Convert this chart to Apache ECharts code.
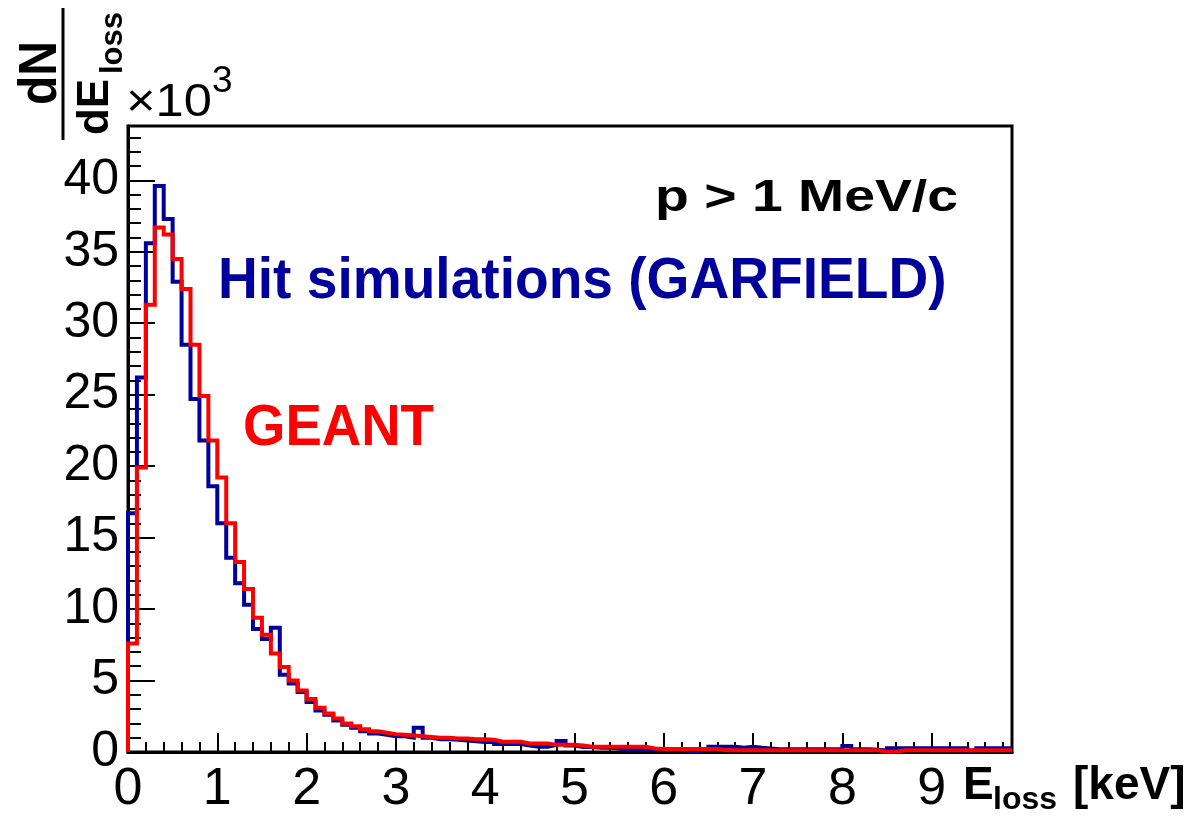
<!DOCTYPE html>
<html><head><meta charset="utf-8">
<script src="https://cdn.jsdelivr.net/npm/echarts@6/dist/echarts.min.js"></script>
<style>html,body{margin:0;padding:0;background:#fff}#c{width:1185px;height:818px}</style>
</head><body><div id="c"></div>
<script>
// ---- data (dN/dE in units of 10^3, bins of 0.1 keV starting at 0) ----
const binWidth = 0.1;
const xMax = 9.9;
const yMax = 43.8;
const xTickLabels = ['0','1','2','3','4','5','6','7','8','9'];
const yTickLabels = ['0','5','10','15','20','25','30','35','40'];
const garfield = [
  16.7, 26.2, 35.6, 39.6, 37.3, 32.9, 28.5, 24.7, 21.8, 18.6,
  16.0, 13.6, 11.8, 10.3, 8.6, 7.9, 8.7, 5.4, 4.8, 4.2,
  3.5, 2.9, 2.6, 2.2, 1.9, 1.7, 1.45, 1.3, 1.2, 1.1,
  1.1, 1.0, 1.7, 1.0, 0.9, 0.9, 0.85, 0.8, 0.75, 0.7,
  0.7, 0.56, 0.56, 0.56, 0.45, 0.37, 0.37, 0.5, 0.77, 0.45,
  0.35, 0.35, 0.3, 0.3, 0.25, 0.14, 0.14, 0.14, 0.2, 0.2,
  0.2, 0.15, 0.05, 0.05, 0.2, 0.37, 0.37, 0.37, 0.3, 0.37,
  0.3, 0.25, 0.2, 0.2, 0.2, 0.2, 0.2, 0.2, 0.2, 0.2,
  0.42, 0.2, 0.2, 0.15, 0.1, 0.26, 0.26, 0.26, 0.26, 0.26,
  0.26, 0.26, 0.26, 0.26, 0.1, 0.26, 0.26, 0.26, 0.26
];
const geant = [
  7.6, 19.9, 31.3, 36.7, 36.2, 34.5, 32.4, 28.5, 24.9, 21.8,
  19.2, 16.0, 13.3, 11.4, 9.4, 8.2, 6.9, 5.95, 5.0, 4.3,
  3.7, 3.1, 2.7, 2.35, 2.0, 1.8, 1.6, 1.45, 1.35, 1.25,
  1.2, 1.15, 1.1, 1.05, 1.0, 1.0, 0.95, 0.95, 0.9, 0.9,
  0.85, 0.72, 0.72, 0.72, 0.6, 0.6, 0.6, 0.5, 0.5, 0.5,
  0.45, 0.37, 0.37, 0.37, 0.37, 0.37, 0.37, 0.37, 0.25, 0.21,
  0.21, 0.21, 0.21, 0.21, 0.21, 0.21, 0.12, 0.12, 0.12, 0.12,
  0.12, 0.12, 0.12, 0.12, 0.12, 0.12, 0.12, 0.12, 0.12, 0.12,
  0.12, 0.12, 0.12, 0.12, 0.02, 0.02, 0.12, 0.12, 0.12, 0.12,
  0.12, 0.12, 0.12, 0.12, 0.12, 0.12, 0.12, 0.12, 0.12
];
const blueColor = '#00009c';
const redColor = '#ff0000';

function hist(vals) {
  const d = [[0, 0]];
  vals.forEach((v, i) => d.push([+(i * binWidth).toFixed(3), v]));
  d.push([+(vals.length * binWidth).toFixed(3), vals[vals.length - 1]]);
  return d;
}

const FONT = '"Liberation Sans", Arial, Helvetica, sans-serif';
const chart = echarts.init(document.getElementById('c'), null, {renderer: 'canvas'});

function txt(text, x, y, size, opts) {
  opts = opts || {};
  return {
    type: 'text', x: x, y: y, scaleX: opts.sx || 1, scaleY: opts.sy || 1,
    rotation: opts.rot || 0, z: 100,
    style: {
      text: text, fill: opts.color || '#000',
      font: (opts.bold ? 'bold ' : '') + size + 'px ' + FONT,
      align: opts.align || 'left', verticalAlign: opts.va || 'middle',
      textAlign: opts.align || 'left', textVerticalAlign: opts.va || 'middle'
    }
  };
}

const tickStyle = {color: '#000', width: 2};
chart.setOption({
  animation: false,
  backgroundColor: '#fff',
  grid: {left: 128, top: 126, right: 173, bottom: 66, show: true,
         borderColor: '#000', borderWidth: 3, backgroundColor: 'transparent'},
  xAxis: [
    {type: 'value', min: 0, max: xMax, interval: 1, position: 'bottom',
     axisLine: {show: true, onZero: false, lineStyle: {color: '#000', width: 3}},
     axisTick: {show: true, inside: true, length: 19, lineStyle: tickStyle},
     splitLine: {show: false},
     axisLabel: {show: true, color: '#000', fontFamily: FONT, fontSize: 52, margin: 12,
                 showMaxLabel: false,
                 formatter: v => { const i = Math.round(v); return Math.abs(v - i) < 1e-6 && xTickLabels[i] !== undefined ? xTickLabels[i] : ''; }}},
    {type: 'value', min: 0, max: xMax, interval: 0.2, position: 'bottom', offset: 0,
     axisLine: {show: false}, splitLine: {show: false}, axisLabel: {show: false},
     axisTick: {show: true, inside: true, length: 10, lineStyle: tickStyle}}
  ],
  yAxis: [
    {type: 'value', min: 0, max: yMax, interval: 5, position: 'left',
     axisLine: {show: true, onZero: false, lineStyle: {color: '#000', width: 3}},
     axisTick: {show: true, inside: true, length: 27, lineStyle: tickStyle},
     splitLine: {show: false},
     axisLabel: {show: true, color: '#000', fontFamily: FONT, fontSize: 50, margin: 9,
                 showMaxLabel: false,
                 formatter: v => { const i = Math.round(v / 5); return Math.abs(v - i * 5) < 1e-6 && yTickLabels[i] !== undefined ? yTickLabels[i] : ''; }}},
    {type: 'value', min: 0, max: yMax, interval: 1, position: 'left', offset: 0,
     axisLine: {show: false}, splitLine: {show: false}, axisLabel: {show: false},
     axisTick: {show: true, inside: true, length: 13, lineStyle: tickStyle}}
  ],
  series: [
    {name: 'Hit simulations (GARFIELD)', type: 'line', step: 'end', data: hist(garfield),
     xAxisIndex: 0, yAxisIndex: 0, symbol: 'none', clip: true,
     lineStyle: {color: blueColor, width: 4, join: 'miter'}, z: 3},
    {name: 'GEANT', type: 'line', step: 'end', data: hist(geant),
     xAxisIndex: 0, yAxisIndex: 0, symbol: 'none', clip: true,
     lineStyle: {color: redColor, width: 4, join: 'miter'}, z: 4}
  ],
  graphic: [
    txt('p > 1 MeV/c', 655, 199, 45, {bold: true, sx: 1.23}),
    txt('Hit simulations (GARFIELD)', 218, 282, 58, {bold: true, sx: 0.95, color: blueColor}),
    txt('GEANT', 243, 429, 58, {bold: true, sx: 0.94, color: redColor}),
    txt('\u00d710', 126, 103, 46, {sx: 1.1}),
    txt('3', 212, 82, 37, {sx: 1.0}),
    // y-axis title (fraction, rotated)
    txt('dN', 41, 73, 48, {bold: true, rot: Math.PI / 2, align: 'center', sy: 1.1}),
    {type: 'line', shape: {x1: 63, y1: 8, x2: 63, y2: 140}, style: {stroke: '#000', lineWidth: 3}, z: 100},
    txt('dE', 96, 107, 44, {bold: true, rot: Math.PI / 2, align: 'center'}),
    txt('loss', 113, 43, 31, {bold: true, rot: Math.PI / 2, align: 'center'}),
    // x-axis title
    txt('E', 963, 786, 46, {bold: true}),
    txt('loss', 993, 800, 32, {bold: true}),
    txt('[keV]', 1073, 786, 46, {bold: true})
  ]
});
</script></body></html>
